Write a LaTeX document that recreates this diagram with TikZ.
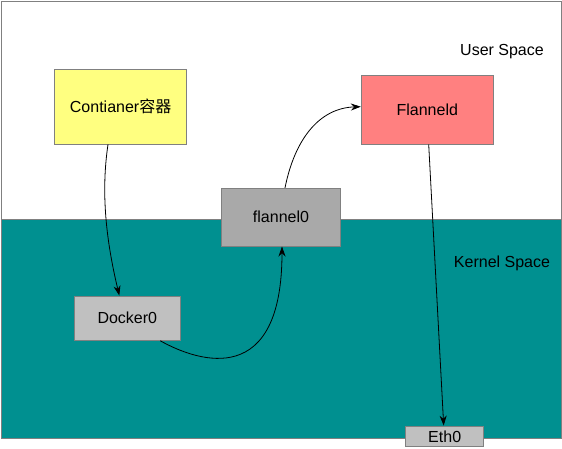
\documentclass[tikz,border=0pt]{standalone}
\usepackage{fontspec}
\setmainfont{Liberation Sans}
\newfontfamily\cjk{Noto Sans CJK SC}
\usetikzlibrary{arrows.meta}
\definecolor{teal0}{RGB}{0,144,144}
\definecolor{edge0}{RGB}{128,128,128}
\definecolor{yel0}{RGB}{255,255,128}
\definecolor{red0}{RGB}{255,128,128}
\definecolor{gry0}{RGB}{169,169,169}
\definecolor{gry1}{RGB}{192,192,192}
\begin{document}
\begin{tikzpicture}[x=1pt,y=1pt,
  box/.style={draw=edge0,line width=0.9pt,inner sep=0pt,font=\fontsize{16}{19}\selectfont},
  flow/.style={-{Stealth[length=10pt,width=7pt]},line width=0.8pt}]
\useasboundingbox (0,0) rectangle (562,448);
\draw[edge0,fill=white,line width=0.9pt] (1.5,446.5) rectangle (561,9.7);
\draw[edge0,fill=teal0,line width=0.9pt] (1.5,228.7) rectangle (561,9.7);
\node[font=\fontsize{16}{19}\selectfont] (user) at (502,396.5) {User Space};
\node[font=\fontsize{16}{19}\selectfont] (kernel) at (502,184.5) {Kernel Space};
\node[box,fill=yel0,minimum width=132pt,minimum height=75pt] (cont) at (120.6,341.5) {Contianer{\cjk 容器}};
\node[box,fill=red0,minimum width=132pt,minimum height=68.7pt] (flanneld) at (427.3,338.3) {Flanneld};
\node[box,fill=gry0,minimum width=119.4pt,minimum height=57.7pt] (flannel0) at (281,230.8) {flannel0};
\node[box,fill=gry1,minimum width=106pt,minimum height=44.3pt] (docker0) at (127.3,129.8) {Docker0};
\node[box,fill=gry1,minimum width=78pt,minimum height=20.7pt] (eth0) at (444.7,11.6) {Eth0};
\draw[flow] ([xshift=-12.6pt]cont.south) .. controls (100,250) and (108,200) .. ([xshift=-8pt]docker0.north);
\draw[flow] ([xshift=33pt]docker0.south) .. controls (200,85) and (282,60) .. ([xshift=1pt]flannel0.south);
\draw[flow] ([xshift=4pt]flannel0.north) .. controls (295,310) and (320,340) .. ([yshift=3pt]flanneld.west);
\draw[flow] ([xshift=1.4pt]flanneld.south) -- ([xshift=-1pt]eth0.north);
\end{tikzpicture}
\end{document}
